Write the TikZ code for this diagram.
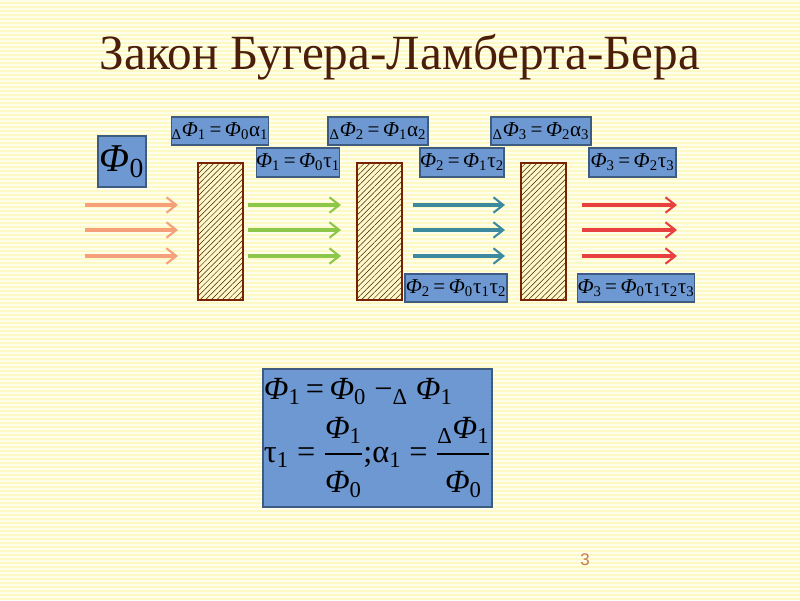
\documentclass[tikz,border=0pt]{standalone}
\usepackage{fontspec}
\setmainfont{Liberation Serif}
\newfontfamily\numfont{Liberation Sans}
\usepackage{amsmath}
\usepackage{xcolor}
\usetikzlibrary{arrows.meta,patterns.meta}

\definecolor{bgyellow}{RGB}{252,249,196}
\definecolor{bglight}{RGB}{255,254,236}
\definecolor{titlebrown}{RGB}{75,30,10}
\definecolor{boxblue}{RGB}{109,152,210}
\definecolor{boxline}{RGB}{62,92,130}
\definecolor{slabfill}{RGB}{255,248,200}
\definecolor{slabline}{RGB}{122,34,0}
\definecolor{hatch}{RGB}{60,30,0}
\definecolor{salmon}{RGB}{245,160,122}
\definecolor{leafgreen}{RGB}{140,198,75}
\definecolor{tealblue}{RGB}{61,138,160}
\definecolor{rayred}{RGB}{232,64,64}
\definecolor{pagenum}{RGB}{196,120,80}

\newcommand\Ph[1]{\textit{Φ}\textsubscript{#1}}
\newcommand\dl{\textsubscript{Δ}}
\newcommand\tu[1]{τ\textsubscript{#1}}
\newcommand\al[1]{α\textsubscript{#1}}
\newcommand\eq{\,=\,}
\newcommand\ratio[2]{\genfrac{}{}{1.3pt}{0}%
  {\mbox{#1}\rule[-5pt]{0pt}{5pt}}{\rule{0pt}{23pt}\mbox{#2}}}
\def\pxu{0.025cm}

\begin{document}
\begin{tikzpicture}[x=0.025cm,y=-0.025cm,
  fbox/.style={draw=boxline, fill=boxblue, line width=0.8pt, inner sep=0pt,
    font=\fontsize{15}{17}\selectfont},
  slab/.style={draw=slabline, line width=1.4pt, preaction={fill=slabfill},
    pattern={Lines[angle=45,distance=2.8pt,line width=0.35pt]}, pattern color=hatch,
    minimum width=45*\pxu, minimum height=137*\pxu},
  ray/.style={line width=2.6pt,
    -{Straight Barb[length=7pt,width=11pt,line width=1.5pt]}}]

\useasboundingbox (0,0) rectangle (800,600);

% Background stripes
\fill[bgyellow] (0,0) rectangle (800,600);
\foreach \y in {0,4,...,596}
  \fill[bglight] (0,\y) rectangle (800,\y+2);

% Title
\node[font=\fontsize{35}{40}\selectfont, text=titlebrown] (title) at (400,57)
  {Закон Бугера-Ламберта-Бера};

% Layers
\node[slab] (slab1) at (220.5,231.5) {};
\node[slab] (slab2) at (379.5,231.5) {};
\node[slab] (slab3) at (543.5,231.5) {};

% Rays
\foreach \xa/\xb/\col in {85/178/salmon, 248/341/leafgreen,
                          413/505/tealblue, 582/677/rayred}
  \foreach \y in {205,230,256}
    \draw[ray, \col] (\xa,\y) -- (\xb,\y);

% Flux labels
\node[fbox, font=\fontsize{28}{32}\selectfont, minimum width=48*\pxu,
  minimum height=51*\pxu] (phi0) at (122,161.5) {\Ph0};

\node[fbox, minimum width=96*\pxu, minimum height=28*\pxu] (dA1) at (220,131)
  {\dl\Ph1\eq\Ph0\al1};
\node[fbox, minimum width=80*\pxu, minimum height=29*\pxu] (t1) at (298,162.5)
  {\Ph1\eq\Ph0\tu1};

\node[fbox, minimum width=100*\pxu, minimum height=28*\pxu] (dA2) at (378,131)
  {\dl\Ph2\eq\Ph1\al2};
\node[fbox, minimum width=84*\pxu, minimum height=29*\pxu] (t2) at (462,162.5)
  {\Ph2\eq\Ph1\tu2};

\node[fbox, minimum width=100*\pxu, minimum height=28*\pxu] (dA3) at (541,131)
  {\dl\Ph3\eq\Ph2\al3};
\node[fbox, minimum width=87*\pxu, minimum height=29*\pxu] (t3) at (632.5,162.5)
  {\Ph3\eq\Ph2\tu3};

\node[fbox, minimum width=102*\pxu, minimum height=28*\pxu] (t12) at (456,288)
  {\Ph2\eq\Ph0\tu1\tu2};
\node[fbox, minimum width=116*\pxu, minimum height=28*\pxu] (t123) at (636,288)
  {\Ph3\eq\Ph0\tu1\tu2\tu3};

% Definitions
\node[fbox, font=\fontsize{23}{27}\selectfont, align=left,
  minimum width=229*\pxu, minimum height=138*\pxu] (law) at (377.5,438)
  {\Ph1\eq\Ph0 −\dl\ \Ph1\\[8pt]
   \tu1 = $\ratio{\Ph1}{\Ph0}$;\al1 = $\ratio{\dl\Ph1}{\Ph0}$};

% Page number
\node[font=\numfont\fontsize{12}{14}\selectfont, text=pagenum] (page) at (585,560) {3};

\end{tikzpicture}
\end{document}
